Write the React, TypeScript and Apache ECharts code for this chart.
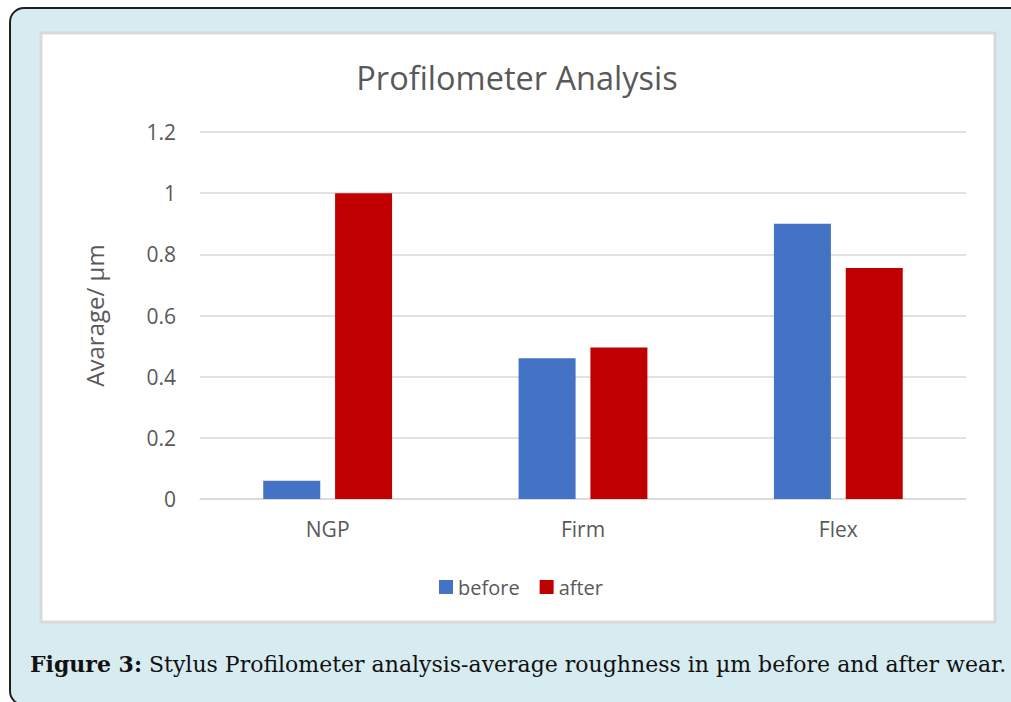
import React, { useEffect, useRef } from "react";
import * as echarts from "echarts";

const categories = ["NGP", "Firm", "Flex"];
const beforeValues = [0.06, 0.46, 0.9];
const afterValues = [1.0, 0.495, 0.755];
const seriesNames = ["before", "after"];
const titleText = "Profilometer Analysis";
const yAxisName = "Avarage/ µm";
const captionBold = "Figure 3:";
const captionText = " Stylus Profilometer analysis-average roughness in µm before and after wear.";

export default function App() {
  const ref = useRef<HTMLDivElement>(null);
  useEffect(() => {
    document.body.style.margin = "0";
    const chart = echarts.init(ref.current!, null, { renderer: "svg" });
    const font = "'Open Sans', sans-serif";
    chart.setOption({
      animation: false,
      backgroundColor: "#ffffff",
      title: {
        text: titleText,
        left: 512,
        top: 56,
        textAlign: "center",
        textStyle: { fontFamily: font, fontSize: 32.5, fontWeight: "normal", color: "#595959" },
      },
      legend: {
        data: seriesNames,
        left: 434,
        top: 572,
        itemWidth: 14,
        itemHeight: 14,
        itemGap: 20,
        icon: "rect",
        textStyle: { fontFamily: font, fontSize: 20, color: "#595959" },
      },
      grid: { left: 200, right: 45, top: 132, bottom: 203, containLabel: false },
      xAxis: {
        type: "category",
        data: categories,
        axisLine: { lineStyle: { color: "#d9d9d9", width: 1.5 } },
        axisTick: { show: false },
        axisLabel: { fontFamily: font, fontSize: 21, color: "#595959", margin: 19 },
      },
      yAxis: {
        type: "value",
        min: 0,
        max: 1.2,
        interval: 0.2,
        name: yAxisName,
        nameLocation: "middle",
        nameGap: 94,
        nameRotate: 90,
        nameTextStyle: { fontFamily: font, fontSize: 24, color: "#595959" },
        axisLine: { show: false },
        axisTick: { show: false },
        splitLine: { lineStyle: { color: "#d9d9d9", width: 1.5 } },
        axisLabel: {
          fontFamily: font,
          fontSize: 21,
          color: "#595959",
          margin: 24,
          formatter: (v: number) => String(Math.round(v * 10) / 10),
        },
      },
      series: [
        {
          name: seriesNames[0],
          type: "bar",
          data: beforeValues,
          barWidth: 57,
          barGap: "26%",
          itemStyle: { color: "#4472c4" },
        },
        {
          name: seriesNames[1],
          type: "bar",
          data: afterValues,
          barWidth: 57,
          barGap: "26%",
          itemStyle: { color: "#c00000" },
        },
      ],
      graphic: [
        {
          type: "rect",
          z: -10,
          silent: true,
          shape: { x: 10, y: 8, width: 1030, height: 697, r: [14, 0, 0, 14] },
          style: { fill: "#d7ecf1", stroke: "#1f1f1f", lineWidth: 2 },
        },
        {
          type: "rect",
          z: -9,
          silent: true,
          shape: { x: 41, y: 33, width: 954, height: 589 },
          style: { fill: "#ffffff", stroke: "#d9d9d9", lineWidth: 3 },
        },
        {
          type: "text",
          x: 30,
          y: 664,
          style: {
            text: "{b|" + captionBold + "}{n|" + captionText + "}",
            verticalAlign: "middle",
            rich: {
              b: { fontFamily: "'DejaVu Serif', serif", fontSize: 22, fontWeight: "bold", fill: "#111111" },
              n: { fontFamily: "'DejaVu Serif', serif", fontSize: 22, fill: "#111111" },
            },
          },
        },
      ],
    });
    return () => chart.dispose();
  }, []);
  return (
    <div
      ref={ref}
      style={{ position: "absolute", left: 0, top: 0, width: 1011, height: 702 }}
    />
  );
}
